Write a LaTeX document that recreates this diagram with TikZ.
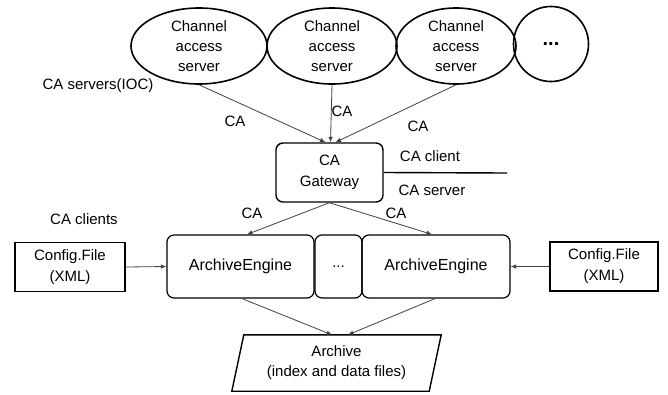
\documentclass[tikz,border=0pt]{standalone}
\usepackage{fontspec}
\setmainfont{Liberation Sans}
\usetikzlibrary{shapes.geometric,arrows.meta}
\begin{document}
\begin{tikzpicture}[x=1pt,y=-1pt,
  every node/.style={font=\fontsize{15}{20}\selectfont, inner sep=0pt, align=center},
  srv/.style={draw, ellipse, line width=1.6pt, minimum height=76pt},
  gwbox/.style={draw, rounded corners=7pt, line width=1.4pt, minimum width=107pt, minimum height=59pt},
  aebox/.style={draw, rounded corners=7pt, line width=1.2pt, minimum height=63pt},
  cfgbox/.style={draw, line width=1.6pt, minimum width=110pt, minimum height=49pt},
  conn/.style={draw=black!75, line width=0.8pt},
  arr/.style={conn, -{Latex[length=5.5pt,width=4.5pt]}},
  lbl/.style={font=\fontsize{15}{20}\selectfont},
  aetext/.style={font=\fontsize{16}{20}\selectfont}
]
\useasboundingbox (0,0) rectangle (668,394);

% CA servers
\node[srv, minimum width=136pt] (e1) at (199,46) {Channel\\access\\server};
\node[srv, minimum width=130pt] (e2) at (332,46) {Channel\\access\\server};
\node[srv, minimum width=120pt] (e3) at (456,46) {Channel\\access\\server};
\node[draw, circle, line width=1.6pt, minimum size=75pt] (e4) at (551,44) {\textbf{\fontsize{20}{20}\selectfont ...}};
\node[lbl] (lservers) at (98,86) {CA servers(IOC)};

% Gateway
\node[gwbox] (gw) at (329.5,172.5) {CA\\[1pt]Gateway};
\coordinate (gwend) at (507,173);
\draw[line width=1.4pt] (gw.east) -- (gwend);
\node[lbl] (lclient) at (430,156) {CA client};
\node[lbl] (lserver) at (432,190) {CA server};

% connectors servers -> gateway
\draw[arr] (e1.south) -- ([xshift=-4pt]gw.north);
\draw[arr] (e2.south) -- ([xshift=1pt]gw.north);
\draw[arr] (e3.south) -- ([xshift=6pt]gw.north);
\node[lbl] (ca1) at (235,121) {CA};
\node[lbl] (ca2) at (342,111) {CA};
\node[lbl] (ca3) at (418,126) {CA};

% Archive engines
\node[aebox, aetext, minimum width=147pt] (ae1) at (240.5,266.5) {ArchiveEngine};
\node[aebox, minimum width=47pt] (dots) at (338.5,266.5) {...};
\node[aebox, aetext, minimum width=148pt] (ae2) at (436,266.5) {ArchiveEngine};
\node[lbl] (lclients) at (84,219) {CA clients};

\draw[arr] (gw.south) -- ([xshift=6.5pt]ae1.north);
\draw[arr] (gw.south) -- ([xshift=-4pt]ae2.north);
\node[lbl] (ca4) at (252,213) {CA};
\node[lbl] (ca5) at (396,213) {CA};

% Config files
\node[cfgbox] (cfg1) at (70,267) {Config.File\\[1pt](XML)};
\node[cfgbox, minimum width=108pt] (cfg2) at (604,266.5) {Config.File\\[1pt](XML)};
\draw[arr] (cfg1.east) -- (ae1.west);
\draw[arr] (cfg2.west) -- (ae2.east);

% Archive
\node[minimum width=209pt, minimum height=56pt] (arch) at (336.5,363) {Archive\\(index and data files)};
\draw[line width=1.4pt] (arch.south west) -- ([xshift=12pt]arch.north west) -- (arch.north east) -- ([xshift=-12pt]arch.south east) -- cycle;
\draw[arr] ([xshift=1.5pt]ae1.south) -- ([xshift=-4.5pt]arch.north);
\draw[arr] ([xshift=-1pt]ae2.south) -- ([xshift=11.5pt]arch.north);
\end{tikzpicture}
\end{document}
